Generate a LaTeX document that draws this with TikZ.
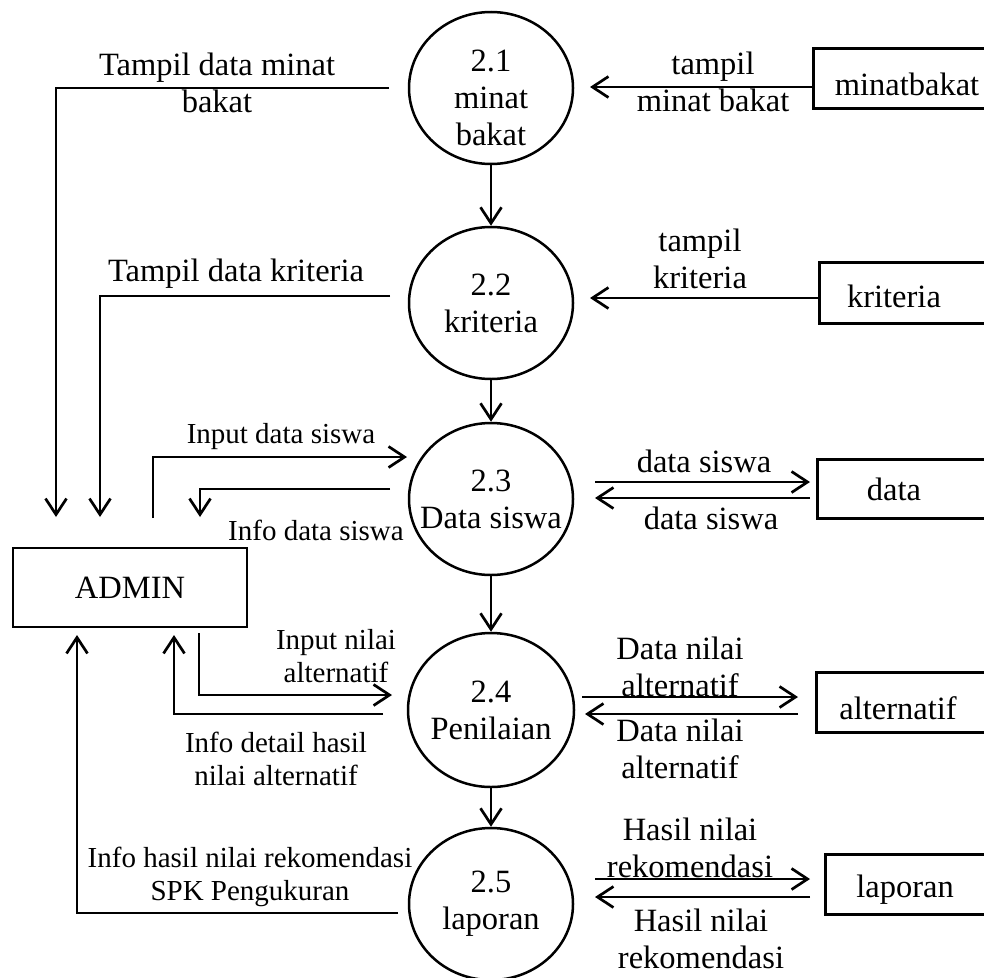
\documentclass[tikz,border=0pt]{standalone}
\usepackage{fontspec}
\setmainfont{Liberation Serif}
\usetikzlibrary{arrows.meta,shapes.geometric}

\begin{document}
\begin{tikzpicture}[x=1pt,y=-1pt,
  every node/.style={font=\fontsize{32.5}{37}\selectfont, align=center, inner sep=0pt},
  smalltxt/.style={font=\fontsize{29}{33}\selectfont},
  proc/.style={draw, ellipse, line width=2.5pt, minimum width=164pt, minimum height=152pt},
  extbox/.style={draw, rectangle, line width=2.7pt, minimum width=234pt, minimum height=79pt},
  storebox/.style={draw, rectangle, line width=2.7pt, minimum width=200pt, anchor=north west},
  flow/.style={line width=2.7pt, -{Straight Barb[length=16pt,width=21pt]}}]

\path[use as bounding box] (0,0) rectangle (984,977);
\clip (0,0) rectangle (984,977);

% processes
\node[proc, label={[yshift=-10pt]center:2.1\\minat\\bakat}] (p1) at (491,88) {};
\node[proc, label={center:2.2\\kriteria}] (p2) at (491,303) {};
\node[proc, label={center:2.3\\Data siswa}] (p3) at (491,499) {};
\node[proc, minimum width=166pt, minimum height=154pt, label={center:2.4\\Penilaian}] (p4) at (491,710) {};
\node[proc, label={center:2.5\\laporan}] (p5) at (491,904) {};

% external entity
\node[extbox] (admin) at (130,587.5) {ADMIN};

% data stores (open towards the right)
\node[storebox, minimum height=60pt] (sMB) at (812,47) {};
\node (tMB) at (907,84) {minatbakat};
\node[storebox, minimum height=61pt] (sKR) at (818,261) {};
\node (tKR) at (894,296) {kriteria};
\node[storebox, minimum height=59pt] (sDT) at (816,458) {};
\node (tDT) at (894,489) {data};
\node[storebox, minimum height=60pt] (sAL) at (815,671) {};
\node (tAL) at (898,708) {alternatif};
\node[storebox, minimum height=60pt] (sLP) at (824,853) {};
\node (tLP) at (905,890) {laporan};

% flow end points
\coordinate (c1a) at (389,88);   \coordinate (c1b) at (56,517);
\coordinate (c2b) at (590,87);
\coordinate (c3a) at (390,296);  \coordinate (c3b) at (100,517);
\coordinate (c4b) at (590,298);
\coordinate (c6a) at (153,518);  \coordinate (c6b) at (407,457);
\coordinate (c7a) at (390,489);  \coordinate (c7b) at (200,517);
\coordinate (c8a) at (595,482);  \coordinate (c8b) at (810,482);
\coordinate (c9a) at (810,498);  \coordinate (c9b) at (595,498);
\coordinate (c10a) at (199,633); \coordinate (c10b) at (392,695);
\coordinate (c11a) at (383,714); \coordinate (c11b) at (174,635);
\coordinate (c12a) at (582,697); \coordinate (c12b) at (798,697);
\coordinate (c13a) at (798,714); \coordinate (c13b) at (585,714);
\coordinate (c14a) at (398,913); \coordinate (c14b) at (77,635);
\coordinate (c15a) at (595,879); \coordinate (c15b) at (810,879);
\coordinate (c16a) at (810,897); \coordinate (c16b) at (595,897);

% vertical flows between processes
\draw[flow] (p1.south) -- (p2.north);
\draw[flow] (p2.south) -- (p3.north);
\draw[flow] (p3.south) -- (p4.north);
\draw[flow] (p4.south) -- (p5.north);

% flows to and from ADMIN
\draw[flow] (c1a) -| (c1b);
\draw[flow] (c3a) -| (c3b);
\draw[flow] (c6a) |- (c6b);
\draw[flow] (c7a) -| (c7b);
\draw[flow] (c10a) |- (c10b);
\draw[flow] (c11a) -| (c11b);
\draw[flow] (c14a) -| (c14b);

% flows to and from the data stores
\draw[flow] (sMB.west |- c2b) -- (c2b);
\draw[flow] (sKR.west |- c4b) -- (c4b);
\draw[flow] (c8a) -- (c8b);
\draw[flow] (c9a) -- (c9b);
\draw[flow] (c12a) -- (c12b);
\draw[flow] (c13a) -- (c13b);
\draw[flow] (c15a) -- (c15b);
\draw[flow] (c16a) -- (c16b);

% flow labels
\node (l1) at (217,83) {Tampil data minat\\bakat};
\node (l2) at (713,82) {tampil\\minat bakat};
\node (l3) at (236,274) {Tampil data kriteria};
\node (l4) at (700,259) {tampil\\kriteria};
\node[smalltxt] (l6) at (281,437) {Input data siswa};
\node[smalltxt] (l7) at (316,530) {Info data siswa};
\node (l8) at (704,461) {data siswa};
\node (l9) at (711,518) {data siswa};
\node[smalltxt] (l10) at (336,656) {Input nilai\\alternatif};
\node[smalltxt] (l11) at (276,759) {Info detail hasil\\nilai alternatif};
\node (l12) at (680,667) {Data nilai\\alternatif};
\node (l13) at (680,749) {Data nilai\\alternatif};
\node[smalltxt] (l14) at (250,877) {Info hasil nilai rekomendasi\\SPK Pengukuran};
\node (l15) at (690,848) {Hasil nilai\\rekomendasi};
\node (l16) at (701,939) {Hasil nilai\\rekomendasi};

\end{tikzpicture}
\end{document}
